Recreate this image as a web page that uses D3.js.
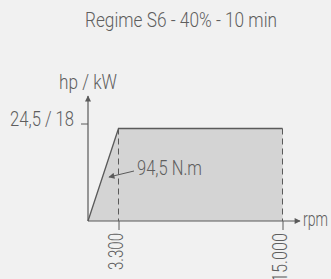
<!DOCTYPE html>
<html><head><meta charset="utf-8">
<script src="https://cdn.jsdelivr.net/npm/d3@7"></script>
<style>
html,body{margin:0;padding:0;background:#f1f1f1;}
svg{display:block;}
text{font-family:Roboto,"Liberation Sans",sans-serif;font-weight:300;fill:#5e5e5e;}
</style></head>
<body>
<svg id="c" width="331" height="279"></svg>
<script>
const title = "Regime S6 - 40% - 10 min";
const rpmPoints = [0, 3300, 15000, 15000];
const powerPoints = [0, 24.5, 24.5, 0];
const xTicks = [3300, 15000];
const xTickLabels = ["3.300", "15.000"];
const yTicks = [24.5];
const yTickLabels = ["24,5 / 18"];
const torqueLabel = "94,5 N.m";
const yAxisLabel = "hp / kW";
const xAxisLabel = "rpm";

const ink = "#5a5a5a";
const svg = d3.select("#c");
const x0 = 88, y0 = 221;
// schematic (non-proportional) speed axis
const x = d3.scaleLinear().domain([0, 3300, 15000]).range([x0, 118.5, 282.5]);
const y = d3.scaleLinear().domain([0, 24.5]).range([y0, 128.5]);

function fit(sel, w) { sel.attr("textLength", w).attr("lengthAdjust", "spacingAndGlyphs"); return sel; }

fit(svg.append("text").attr("x", 181).attr("y", 27).attr("text-anchor", "middle")
  .attr("font-size", 20).text(title), 192);

// fill
const pts = rpmPoints.map((r, i) => [x(r), y(powerPoints[i])]);
svg.append("path").attr("d", d3.line()(pts) + "Z").attr("fill", "#d4d4d4").attr("stroke", "none");
// solid curve: rise + plateau
svg.append("path").attr("d", d3.line()(pts.slice(0, 3))).attr("fill", "none")
  .attr("stroke", ink).attr("stroke-width", 1.3);
// dashed verticals
xTicks.forEach(v => {
  svg.append("line").attr("x1", x(v)).attr("x2", x(v)).attr("y1", y(24.5)).attr("y2", y0)
    .attr("stroke", ink).attr("stroke-width", 1).attr("stroke-dasharray", "6,4");
});

// axes lines with arrows
const defs = svg.append("defs");
defs.append("marker").attr("id", "ah").attr("viewBox", "0 0 10 10").attr("refX", 9).attr("refY", 5)
  .attr("markerWidth", 7).attr("markerHeight", 6).attr("markerUnits", "userSpaceOnUse")
  .attr("orient", "auto").append("path").attr("d", "M0,0L10,5L0,10Z").attr("fill", ink);
svg.append("line").attr("x1", x0).attr("y1", y0).attr("x2", 300).attr("y2", y0)
  .attr("stroke", ink).attr("stroke-width", 1.2).attr("marker-end", "url(#ah)");
svg.append("line").attr("x1", x0).attr("y1", y0).attr("x2", x0).attr("y2", 96)
  .attr("stroke", ink).attr("stroke-width", 1.2).attr("marker-end", "url(#ah)");

// x axis ticks
const xLabelW = [37, 49];
const xa = svg.append("g").attr("transform", `translate(0,${y0})`)
  .call(d3.axisBottom(x).tickValues(xTicks).tickSize(9).tickFormat((d, i) => xTickLabels[i]));
xa.select(".domain").remove();
xa.selectAll(".tick line").attr("stroke", ink);
xa.selectAll(".tick text").attr("font-size", 20).attr("font-family", null)
  .attr("text-anchor", "end").attr("transform", "rotate(-90)")
  .attr("x", -12).attr("y", 0).attr("dy", "0.22em").attr("fill", "#5e5e5e")
  .each(function(d, i) { fit(d3.select(this), xLabelW[i]); });

// y axis tick
const ya = svg.append("g").attr("transform", `translate(${x0},-5)`)
  .call(d3.axisLeft(y).tickValues(yTicks).tickSize(7).tickPadding(7).tickFormat((d, i) => yTickLabels[i]));
ya.select(".domain").remove();
ya.selectAll(".tick line").attr("stroke", ink);
fit(ya.selectAll(".tick text").attr("font-size", 20).attr("font-family", null).attr("dy", "0.1em").attr("fill", "#5e5e5e"), 64);

fit(svg.append("text").attr("x", 59).attr("y", 89).attr("font-size", 20).text(yAxisLabel), 58);
fit(svg.append("text").attr("x", 303).attr("y", 226).attr("font-size", 20).text(xAxisLabel), 25);

// torque annotation
svg.append("line").attr("x1", 134).attr("y1", 171).attr("x2", 109).attr("y2", 177)
  .attr("stroke", ink).attr("stroke-width", 1).attr("marker-end", "url(#ah)");
fit(svg.append("text").attr("x", 137).attr("y", 175).attr("font-size", 20).text(torqueLabel), 65);
</script>
</body></html>
